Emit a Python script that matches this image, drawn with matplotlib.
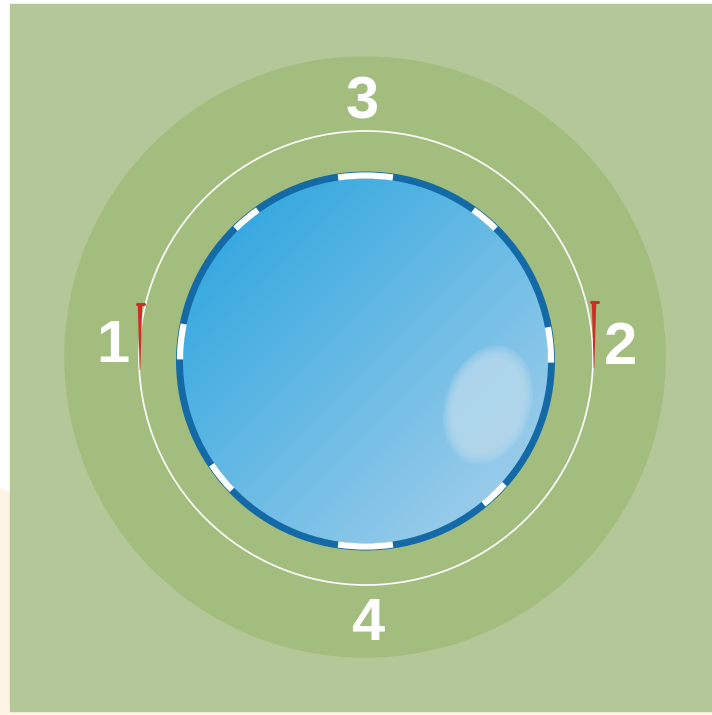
import matplotlib
matplotlib.use('Agg')
import matplotlib.pyplot as plt
import numpy as np
from matplotlib.patches import Circle, Ellipse, Rectangle, Polygon, Arc

# labels around the ring (text, x, y)
labels = ['1', '2', '3', '4']
label_x = [113, 621, 362, 368]
label_y = [346, 349, 103, 624]

# white gaps on the blue rim: centre angle (deg) and span (deg)
gap_angles = [90, 50, 5, -46, -90, -141, 174, 130]
gap_spans = [17, 9, 11, 9, 17, 10, 11, 9]

# red pegs (x, top y, bottom y)
peg_x = [140, 594]
peg_top = [302, 300]
peg_bot = [370, 368]

W, H = 712, 715
fig = plt.figure(figsize=(W / 100, H / 100), dpi=100)
ax = fig.add_axes([0, 0, 1, 1])
ax.set_xlim(0, W)
ax.set_ylim(H, 0)
ax.axis('off')

# background
ax.add_patch(Rectangle((0, 0), W, H, color='white', zorder=0))
ax.add_patch(Polygon([(0, 488), (10, 494), (10, 715), (0, 715)], color='#fdf4e6', zorder=0))
ax.add_patch(Rectangle((10, 711), W, 4, color='#fdf4e6', zorder=0))
ax.add_patch(Rectangle((10, 4), W - 10, 707, color='#b4c799', zorder=1))

# big green disc and thin white circle
ax.add_patch(Circle((365, 357), 300, color='#a2bd7e', zorder=2))
ax.add_patch(Circle((366, 358), 227, fill=False, ec='white', lw=1.2, zorder=3))

# blue pool with gradient
cx, cy, r = 365.5, 361, 188
yy, xx = np.mgrid[cy - r:cy + r:400j, cx - r:cx + r:400j]
t = ((xx - (cx - r)) + (yy - (cy - r))) / (4 * r)
c0 = np.array([0x22, 0xa2, 0xde]) / 255
c1 = np.array([0xae, 0xd3, 0xec]) / 255
img = c0 + (c1 - c0) * np.clip(t, 0, 1)[..., None]
im = ax.imshow(img, extent=(cx - r, cx + r, cy + r, cy - r), zorder=4, interpolation='bilinear')
clip = Circle((cx, cy), r - 2, transform=ax.transData)
im.set_clip_path(clip)

# soft highlight
for i in range(6):
    f = 1 - i * 0.04
    ax.add_patch(Ellipse((488, 405), 86 * f, 122 * f, angle=18, color='#bcdcef',
                         alpha=0.22, lw=0, zorder=5))

# dark rim
ax.add_patch(Circle((cx, cy), r - 2, fill=False, ec='#146aa6', lw=5, zorder=6))
for a, s in zip(gap_angles, gap_spans):
    ax.add_patch(Arc((cx, cy), 2 * (r - 2.5), 2 * (r - 2.5), theta1=-a - s / 2, theta2=-a + s / 2,
                     color='white', lw=4.5, zorder=7))

# red pegs
for x, y0, y1 in zip(peg_x, peg_top, peg_bot):
    ax.add_patch(Polygon([(x - 2.2, y0 + 4), (x + 2.2, y0 + 4), (x + 0.3, y1), (x - 0.3, y1)],
                         color='#cf2e28', lw=0, zorder=8))
    ax.plot([x - 3.5, x + 3.5], [y0 + 2, y0 + 2], color='#cf2e28', lw=2.2, solid_capstyle='round', zorder=8)

for s, x, y in zip(labels, label_x, label_y):
    ax.text(x, y, s, color='white', fontsize=43, fontweight='bold', family='Liberation Sans',
            ha='center', va='center', zorder=9)

fig.savefig('out.png', dpi=100)
